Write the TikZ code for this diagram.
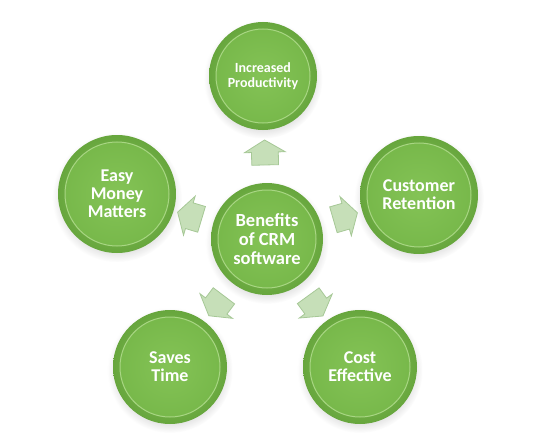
\documentclass[tikz,border=0pt]{standalone}
\usepackage{fontspec}
\setmainfont{Carlito}
\usetikzlibrary{shapes.arrows,shadows,calc}
\definecolor{ballout}{HTML}{67A63D}
\definecolor{ballin}{HTML}{8CC960}
\definecolor{discin}{HTML}{84C356}
\definecolor{discout}{HTML}{76B749}
\definecolor{rim}{HTML}{A8D683}
\definecolor{arrowfill}{HTML}{C6DFB8}
\definecolor{arrowedge}{HTML}{A6C896}
\tikzset{
  >=latex,
}
\tikzstyle{bubble}=[circle,minimum size=114pt,inner sep=0pt,
  text=white,align=center,font=\bfseries\fontsize{18}{18}\selectfont,
  shading=radial,inner color=ballin,outer color=ballout,
  circular drop shadow={shadow xshift=0pt,shadow yshift=-3pt,opacity=.2},
  path picture={
    \draw[rim,line width=1pt,inner color=discin,outer color=discout]
      let \p1=(path picture bounding box.east),
          \p2=(path picture bounding box.center) in
      (\p2) circle ({\x1-\x2-7});
  }]
\tikzstyle{pointer}=[single arrow,minimum height=25pt,minimum width=40pt,
  single arrow head extend=7pt,single arrow tip angle=118,
  inner xsep=0pt,inner ysep=13pt,
  fill=arrowfill,draw=arrowedge,line width=.8pt]

\begin{document}
\begin{tikzpicture}[x=1pt,y=-1pt]
    \useasboundingbox (0,0) rectangle (533,444);
    % hub and the five benefits
    \node[bubble,minimum size=112pt,font=\bfseries\fontsize{18.5}{19}\selectfont]
      (crm) at (267,239) {Benefits\\of CRM\\software};
    \node[bubble,minimum size=108pt,font=\bfseries\fontsize{14}{15}\selectfont]
      (prod) at (263,76) {Increased\\Productivity};
    \node[bubble,minimum size=118pt] (ret) at (419,195) {Customer\\Retention};
    \node[bubble] (cost) at (360,367) {Cost\\Effective};
    \node[bubble] (time) at (170,367) {Saves\\Time};
    \node[bubble,minimum size=118pt] (money) at (117,194) {Easy\\Money\\Matters};
    % block arrows out of the hub
    \foreach \n in {prod,ret,cost,time,money}
      \path (crm) -- (\n) node[midway,sloped,allow upside down,pointer]{};
\end{tikzpicture}
\end{document}
